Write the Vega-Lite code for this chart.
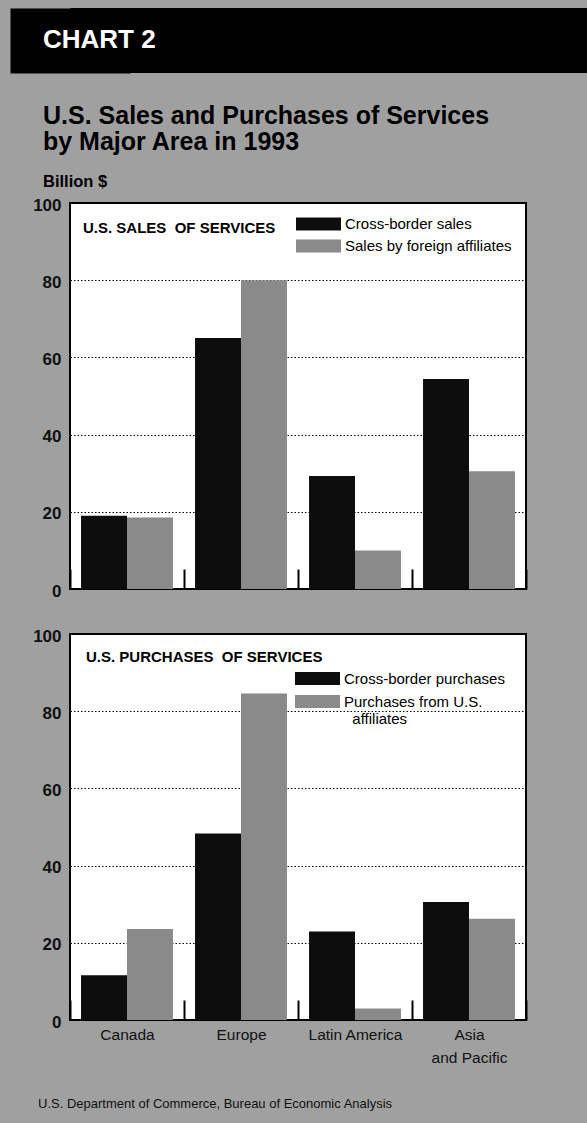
{
  "$schema": "https://vega.github.io/schema/vega-lite/v6.json",
  "background": "#a0a0a0",
  "padding": {"left": 9, "top": 8, "right": 0, "bottom": 24},
  "spacing": 30,
  "title": {
    "text": "U.S. Department of Commerce, Bureau of Economic Analysis",
    "orient": "bottom",
    "anchor": "start",
    "frame": "bounds",
    "dx": 29,
    "offset": 31,
    "font": "Liberation Sans, Arial",
    "fontSize": 13,
    "fontWeight": "normal",
    "color": "#111111"
  },
  "vconcat": [
    {
      "width": 517,
      "height": 65,
      "view": {"fill": "#000000", "stroke": null},
      "data": {"values": [{"band": "header"}]},
      "mark": {"type": "bar", "color": "#000000"},
      "encoding": {
        "y": {
          "field": "band",
          "type": "nominal",
          "title": null,
          "scale": {"paddingInner": 0, "paddingOuter": 0},
          "axis": {"labels": false, "ticks": false, "grid": false, "domain": true, "domainColor": "#000000", "domainWidth": 120, "domainCap": "butt"}
        }
      },
      "title": {
        "text": "CHART 2",
        "orient": "top",
        "anchor": "start",
        "frame": "group",
        "offset": -66,
        "dx": -27,
        "baseline": "alphabetic",
        "color": "#ffffff",
        "font": "Liberation Sans, Arial",
        "fontSize": 26,
        "fontWeight": "bold"
      }
    },
    {
      "spacing": 26,
      "resolve": {
        "scale": {"color": "independent", "x": "independent", "y": "independent", "xOffset": "independent"},
        "legend": {"color": "independent"}
      },
      "vconcat": [
        {
          "width": 456,
          "height": 386,
          "view": {"fill": "#ffffff", "stroke": "#000000", "strokeWidth": 2},
          "title": {
            "text": ["U.S. Sales and Purchases of Services", "by Major Area in 1993"],
            "subtitle": "Billion $",
            "anchor": "start",
            "frame": "bounds",
            "dx": 33,
            "offset": 6
          },
          "data": {
            "values": [
              {"region": "Canada", "series": "Cross-border sales", "value": 19},
              {"region": "Canada", "series": "Sales by foreign affiliates", "value": 18.5},
              {"region": "Europe", "series": "Cross-border sales", "value": 65},
              {"region": "Europe", "series": "Sales by foreign affiliates", "value": 80},
              {"region": "Latin America", "series": "Cross-border sales", "value": 29.3},
              {"region": "Latin America", "series": "Sales by foreign affiliates", "value": 10},
              {"region": "Asia and Pacific", "series": "Cross-border sales", "value": 54.4},
              {"region": "Asia and Pacific", "series": "Sales by foreign affiliates", "value": 30.5}
            ]
          },
          "layer": [
            {
              "mark": {"type": "bar"},
              "encoding": {
                "x": {
                  "field": "region",
                  "type": "nominal",
                  "title": null,
                  "scale": {"domain": ["Canada", "Europe", "Latin America", "Asia and Pacific"], "paddingInner": 0, "paddingOuter": 0},
                  "axis": {"labels": false}
                },
                "xOffset": {
                  "field": "series",
                  "type": "nominal",
                  "scale": {"domain": ["Cross-border sales", "Sales by foreign affiliates"], "paddingInner": 0, "paddingOuter": 0.24}
                },
                "y": {
                  "field": "value",
                  "type": "quantitative",
                  "title": null,
                  "scale": {"domain": [0, 100], "nice": false},
                  "axis": {"values": [0, 20, 40, 60, 80, 100]}
                },
                "color": {
                  "field": "series",
                  "type": "nominal",
                  "scale": {"domain": ["Cross-border sales", "Sales by foreign affiliates"], "range": ["#0d0d0d", "#8a8a8a"]},
                  "legend": {"legendX": 225, "legendY": 13.5, "rowPadding": 6}
                }
              }
            },
            {
              "data": {"values": [{"panel": "U.S. SALES\u00a0 OF SERVICES"}]},
              "mark": {"type": "text", "align": "left", "baseline": "alphabetic", "dx": 13, "dy": 30, "font": "Liberation Sans, Arial", "fontSize": 15, "fontWeight": "bold", "color": "#000000"},
              "encoding": {
                "text": {"field": "panel"},
                "x": {"datum": "Canada", "type": "nominal", "bandPosition": 0},
                "y": {"datum": 100, "type": "quantitative"}
              }
            }
          ]
        },
        {
          "width": 456,
          "height": 386,
          "view": {"fill": "#ffffff", "stroke": "#000000", "strokeWidth": 2},
          "data": {
            "values": [
              {"region": "Canada", "series": "Cross-border purchases", "value": 11.6},
              {"region": "Canada", "series": "Purchases from U.S. affiliates", "value": 23.6},
              {"region": "Europe", "series": "Cross-border purchases", "value": 48.3},
              {"region": "Europe", "series": "Purchases from U.S. affiliates", "value": 84.6},
              {"region": "Latin America", "series": "Cross-border purchases", "value": 22.9},
              {"region": "Latin America", "series": "Purchases from U.S. affiliates", "value": 3},
              {"region": "Asia and Pacific", "series": "Cross-border purchases", "value": 30.6},
              {"region": "Asia and Pacific", "series": "Purchases from U.S. affiliates", "value": 26.2}
            ]
          },
          "layer": [
            {
              "mark": {"type": "bar"},
              "encoding": {
                "x": {
                  "field": "region",
                  "type": "nominal",
                  "title": null,
                  "scale": {"domain": ["Canada", "Europe", "Latin America", "Asia and Pacific"], "paddingInner": 0, "paddingOuter": 0},
                  "axis": {"labelExpr": "datum.label == 'Asia and Pacific' ? ['Asia', 'and Pacific'] : datum.label"}
                },
                "xOffset": {
                  "field": "series",
                  "type": "nominal",
                  "scale": {"domain": ["Cross-border purchases", "Purchases from U.S. affiliates"], "paddingInner": 0, "paddingOuter": 0.24}
                },
                "y": {
                  "field": "value",
                  "type": "quantitative",
                  "title": null,
                  "scale": {"domain": [0, 100], "nice": false},
                  "axis": {"values": [0, 20, 40, 60, 80, 100]}
                },
                "color": {
                  "field": "series",
                  "type": "nominal",
                  "scale": {"domain": ["Cross-border purchases", "Purchases from U.S. affiliates"], "range": ["#0d0d0d", "#8a8a8a"]},
                  "legend": {
                    "legendX": 224,
                    "legendY": 37,
                    "rowPadding": 7,
                    "labelExpr": "datum.label == 'Purchases from U.S. affiliates' ? ['Purchases from U.S.', '\\u200b\\u00a0\\u00a0affiliates'] : datum.label"
                  }
                }
              }
            },
            {
              "data": {"values": [{"panel": "U.S. PURCHASES\u00a0 OF SERVICES"}]},
              "mark": {"type": "text", "align": "left", "baseline": "alphabetic", "dx": 16, "dy": 28, "font": "Liberation Sans, Arial", "fontSize": 15, "fontWeight": "bold", "color": "#000000"},
              "encoding": {
                "text": {"field": "panel"},
                "x": {"datum": "Canada", "type": "nominal", "bandPosition": 0},
                "y": {"datum": 100, "type": "quantitative"}
              }
            }
          ]
        }
      ]
    }
  ],
  "config": {
    "title": {
      "font": "Liberation Sans, Arial",
      "fontSize": 25,
      "fontWeight": "bold",
      "color": "#000000",
      "lineHeight": 25.5,
      "subtitleFont": "Liberation Sans, Arial",
      "subtitleFontSize": 16.5,
      "subtitleFontWeight": "bold",
      "subtitleColor": "#000000",
      "subtitlePadding": 19
    },
    "axisY": {
      "grid": true,
      "gridColor": "#000000",
      "gridDash": [1.5, 2],
      "gridWidth": 1,
      "ticks": false,
      "domain": false,
      "labelFont": "Liberation Sans, Arial",
      "labelFontSize": 17,
      "labelFontWeight": "bold",
      "labelColor": "#111111",
      "labelPadding": 9,
      "labelOffset": 2,
      "minExtent": 60,
      "maxExtent": 60
    },
    "axisX": {
      "domain": false,
      "grid": false,
      "tickBand": "extent",
      "tickSize": -20,
      "tickWidth": 2,
      "tickColor": "#000000",
      "labelAngle": 0,
      "labelFont": "Liberation Sans, Arial",
      "labelFontSize": 15.5,
      "labelColor": "#111111",
      "labelLineHeight": 23,
      "labelPadding": 27
    },
    "legend": {
      "orient": "none",
      "title": null,
      "padding": 0,
      "symbolType": "M-3.46,-1H3.46V1H-3.46Z",
      "symbolSize": 169,
      "symbolOffset": 16,
      "symbolStrokeWidth": 0,
      "symbolOpacity": 1,
      "labelFont": "Liberation Sans, Arial",
      "labelFontSize": 15,
      "labelColor": "#000000",
      "labelOffset": 19,
      "labelLimit": 300,
      "labelLineHeight": 16
    },
    "bar": {"stroke": null}
  }
}
